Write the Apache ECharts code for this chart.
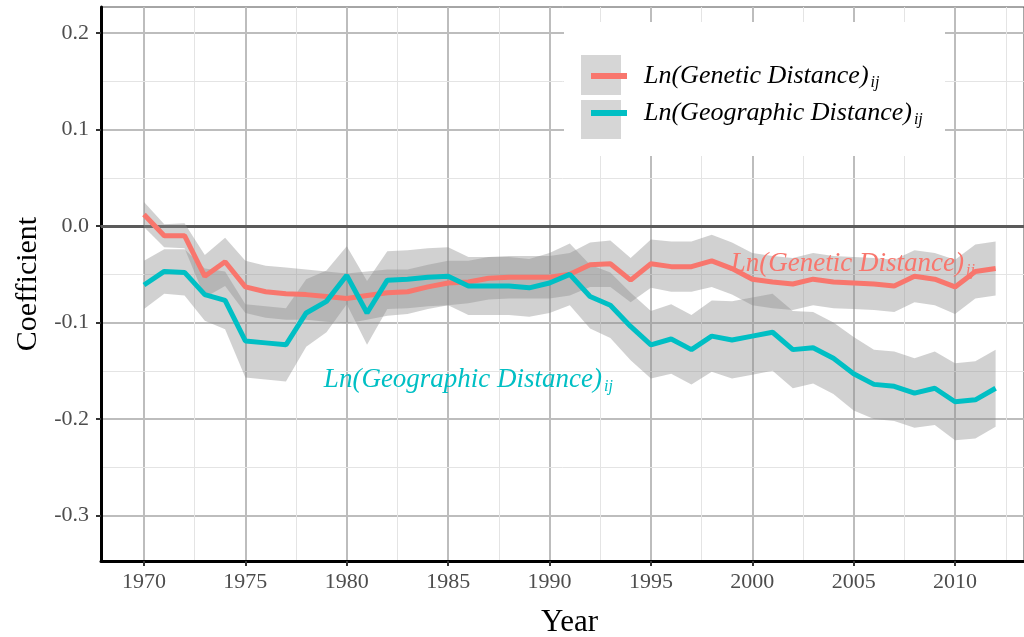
<!DOCTYPE html>
<html>
<head>
<meta charset="utf-8">
<script src="https://cdn.jsdelivr.net/npm/echarts@6/dist/echarts.min.js"></script>
<style>
html, body { margin: 0; padding: 0; background: #fff; }
#main { width: 1024px; height: 637px; }
</style>
</head>
<body>
<div id="main"></div>
<script>
// data
var years = [1970, 1971, 1972, 1973, 1974, 1975, 1976, 1977, 1978, 1979,
	1980, 1981, 1982, 1983, 1984, 1985, 1986, 1987, 1988, 1989,
	1990, 1991, 1992, 1993, 1994, 1995, 1996, 1997, 1998, 1999,
	2000, 2001, 2002, 2003, 2004, 2005, 2006, 2007, 2008, 2009,
	2010, 2011, 2012];

var genetic = [0.012, -0.010, -0.010, -0.052, -0.037, -0.063, -0.068, -0.070, -0.071, -0.073,
	-0.075, -0.072, -0.069, -0.068, -0.063, -0.059, -0.058, -0.054, -0.053, -0.053,
	-0.053, -0.050, -0.040, -0.039, -0.056, -0.039, -0.042, -0.042, -0.036, -0.044,
	-0.055, -0.058, -0.060, -0.055, -0.058, -0.059, -0.060, -0.062, -0.052, -0.055,
	-0.063, -0.047, -0.044];
var geneticLo = [-0.001, -0.022, -0.023, -0.074, -0.062, -0.090, -0.095, -0.097, -0.097, -0.099,
	-0.101, -0.097, -0.093, -0.091, -0.086, -0.082, -0.080, -0.076, -0.075, -0.075,
	-0.075, -0.072, -0.063, -0.063, -0.079, -0.064, -0.068, -0.068, -0.063, -0.071,
	-0.082, -0.085, -0.087, -0.082, -0.085, -0.086, -0.087, -0.089, -0.079, -0.082,
	-0.091, -0.075, -0.072];
var geneticHi = [0.025, 0.002, 0.003, -0.030, -0.012, -0.036, -0.041, -0.043, -0.045, -0.047,
	-0.049, -0.047, -0.045, -0.045, -0.040, -0.036, -0.036, -0.032, -0.031, -0.031,
	-0.031, -0.028, -0.017, -0.015, -0.033, -0.014, -0.016, -0.016, -0.009, -0.017,
	-0.028, -0.031, -0.033, -0.028, -0.031, -0.032, -0.033, -0.035, -0.025, -0.028,
	-0.035, -0.019, -0.016];

var geographic = [-0.061, -0.047, -0.048, -0.071, -0.077, -0.119, -0.121, -0.123, -0.090, -0.078,
	-0.051, -0.090, -0.056, -0.055, -0.053, -0.052, -0.062, -0.062, -0.062, -0.064,
	-0.059, -0.050, -0.073, -0.082, -0.104, -0.123, -0.117, -0.128, -0.114, -0.118,
	-0.114, -0.110, -0.128, -0.126, -0.137, -0.153, -0.164, -0.166, -0.173, -0.168,
	-0.182, -0.180, -0.168];
var geographicLo = [-0.086, -0.070, -0.072, -0.098, -0.107, -0.157, -0.159, -0.161, -0.125, -0.110,
	-0.081, -0.123, -0.086, -0.085, -0.083, -0.082, -0.092, -0.092, -0.092, -0.094,
	-0.090, -0.082, -0.106, -0.116, -0.139, -0.158, -0.153, -0.164, -0.151, -0.158,
	-0.154, -0.150, -0.168, -0.163, -0.174, -0.191, -0.200, -0.202, -0.209, -0.206,
	-0.222, -0.220, -0.208];
var geographicHi = [-0.036, -0.024, -0.024, -0.044, -0.047, -0.081, -0.083, -0.085, -0.055, -0.046,
	-0.021, -0.057, -0.026, -0.025, -0.023, -0.022, -0.032, -0.032, -0.032, -0.034,
	-0.028, -0.018, -0.040, -0.048, -0.069, -0.088, -0.081, -0.092, -0.077, -0.078,
	-0.074, -0.070, -0.088, -0.089, -0.100, -0.115, -0.128, -0.130, -0.137, -0.130,
	-0.142, -0.140, -0.128];

var xMajor = [1970, 1975, 1980, 1985, 1990, 1995, 2000, 2005, 2010];
var xMinor = [1972.5, 1977.5, 1982.5, 1987.5, 1992.5, 1997.5, 2002.5, 2007.5, 2012.5];
var yMajor = [-0.3, -0.2, -0.1, 0.0, 0.1, 0.2];
var yMinor = [-0.25, -0.15, -0.05, 0.05, 0.15];

var geneticName = 'Ln(Genetic Distance)';
var geographicName = 'Ln(Geographic Distance)';
var subscript = 'ij';

var xMin = 1967.88, xMax = 2013.4;
var yMin = -0.347, yMax = 0.227;

var FONT = 'Liberation Serif';
var RED = '#F8766D';
var TEAL = '#00BFC4';
var BAND = 'rgba(140,140,140,0.4)';
var MINOR = '#e4e4e4';

function pairs(vals) {
	return years.map(function(y, i) { return [y, vals[i]]; });
}

// ribbon drawn as one polygon through the axes' own scales
function bandSeries(lo, hi) {
	return {
		type : 'custom',
		silent : true,
		z : 1,
		data : years.map(function(y, i) { return [y, lo[i], hi[i]]; }),
		encode : { x : 0, y : [1, 2] },
		renderItem : function(params, api) {
			if (params.dataIndex !== 0) return;
			var pts = [];
			for (var i = 0; i < years.length; i++) pts.push(api.coord([years[i], hi[i]]));
			for (var j = years.length - 1; j >= 0; j--) pts.push(api.coord([years[j], lo[j]]));
			return { type : 'polygon', shape : { points : pts }, style : { fill : BAND } };
		}
	};
}

function labelRich(color, size) {
	return {
		t : { fontFamily : FONT, fontStyle : 'italic', fontSize : size, color : color },
		s : { fontFamily : FONT, fontStyle : 'italic', fontSize : 16, color : color, padding : [14, 0, 0, 2] }
	};
}

// minor grid as marker lines under everything else
var minorLines = xMinor.map(function(v) { return { xAxis : v }; })
	.concat(yMinor.map(function(v) { return { yAxis : v }; }));

var myChart = echarts.init(document.getElementById('main'));

var option = {
	animation : false,
	backgroundColor : '#fff',
	grid : {
		left : 101, right : 0, top : 7, bottom : 76,
		outerBoundsMode : 'none',
		containLabel : false,
		show : true, borderColor : '#4d4d4d', borderWidth : 1
	},
	legend : {
		left : 583, top : 55,
		orient : 'vertical',
		itemWidth : 36, itemHeight : 40, itemGap : 5,
		data : [geneticName, geographicName],
		itemStyle : { opacity : 0 },
		lineStyle : { width : 6 },
		formatter : function(name) { return '{t|' + name + '}{s|' + subscript + '}'; },
		textStyle : { color : '#000', rich : {
			t : { fontFamily : FONT, fontStyle : 'italic', fontSize : 26, color : '#000', padding : [0, 0, 0, 12] },
			s : { fontFamily : FONT, fontStyle : 'italic', fontSize : 16, color : '#000', padding : [14, 0, 0, 2] }
		} }
	},
	graphic : [
		{ type : 'rect', z : 3, shape : { x : 564, y : 22, width : 381, height : 134 }, style : { fill : '#fff' } },
		{ type : 'rect', z : 3, z2 : 1, shape : { x : 581, y : 55, width : 40, height : 40 }, style : { fill : '#d6d6d6' } },
		{ type : 'rect', z : 3, z2 : 1, shape : { x : 581, y : 100, width : 40, height : 39 }, style : { fill : '#d6d6d6' } }
	],
	xAxis : {
		type : 'value', min : xMin, max : xMax,
		name : 'Year', nameLocation : 'middle', nameGap : 46,
		nameTextStyle : { fontFamily : FONT, fontSize : 31, color : '#000', padding : [0, 0, 0, 14] },
		axisLine : { show : true, onZero : false, lineStyle : { color : '#000', width : 3 } },
		axisTick : { show : true, customValues : xMajor, length : 5, lineStyle : { color : '#333', width : 2 } },
		axisLabel : { customValues : xMajor, fontFamily : FONT, fontSize : 22, color : '#4d4d4d', margin : 10,
			formatter : function(v) { return String(v); } },
		splitLine : { show : true, customValues : xMajor, lineStyle : { color : '#bdbdbd', width : 2 } }
	},
	yAxis : {
		type : 'value', min : yMin, max : yMax,
		name : 'Coefficient', nameLocation : 'middle', nameGap : 56,
		nameTextStyle : { fontFamily : FONT, fontSize : 30, color : '#000' },
		axisLine : { show : true, onZero : false, lineStyle : { color : '#000', width : 3 } },
		axisTick : { show : true, customValues : yMajor, length : 5, lineStyle : { color : '#333', width : 2 } },
		axisLabel : { customValues : yMajor, fontFamily : FONT, fontSize : 22, color : '#4d4d4d', margin : 12,
			formatter : function(v) { return v.toFixed(1); } },
		splitLine : { show : true, customValues : yMajor, lineStyle : { color : '#bdbdbd', width : 2 } }
	},
	series : [
		{
			type : 'line',
			data : [],
			z : 0,
			silent : true,
			markLine : {
				z : 0,
				silent : true, symbol : ['none', 'none'],
				label : { show : false },
				lineStyle : { color : MINOR, width : 1, type : 'solid' },
				data : minorLines
			}
		},
		bandSeries(geneticLo, geneticHi),
		bandSeries(geographicLo, geographicHi),
		{
			name : geneticName,
			type : 'line',
			data : pairs(genetic),
			symbol : 'none',
			color : RED,
			lineStyle : { color : RED, width : 5 },
			markLine : {
				z : 1,
				silent : true, symbol : ['none', 'none'],
				label : { show : false },
				lineStyle : { color : '#5a5a5a', width : 3, type : 'solid' },
				data : [{ yAxis : 0 }]
			},
			markPoint : {
				symbolSize : 0,
				data : [{ coord : [2004.96, -0.039] }],
				label : { show : true, position : 'inside',
					formatter : '{t|' + geneticName + '}{s|' + subscript + '}',
					rich : labelRich(RED, 27) }
			}
		}, {
			name : geographicName,
			type : 'line',
			data : pairs(geographic),
			symbol : 'none',
			color : TEAL,
			lineStyle : { color : TEAL, width : 5 },
			markPoint : {
				symbolSize : 0,
				data : [{ coord : [1986.0, -0.159] }],
				label : { show : true, position : 'inside',
					formatter : '{t|' + geographicName + '}{s|' + subscript + '}',
					rich : labelRich(TEAL, 27) }
			}
		}
	]
};
myChart.setOption(option);
</script>
</body>
</html>
